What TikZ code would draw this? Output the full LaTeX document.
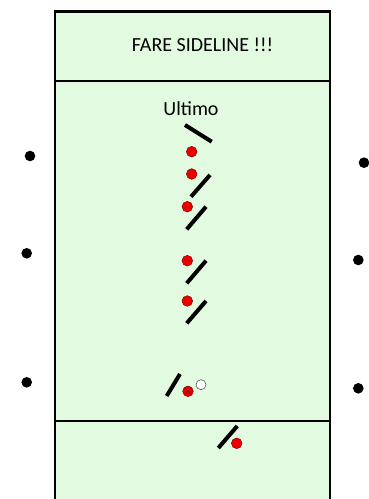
\documentclass[tikz,border=0pt]{standalone}
\usepackage{fontspec}
\setmainfont{Carlito}
\usetikzlibrary{positioning}
\definecolor{fieldgreen}{RGB}{226,250,224}
\definecolor{discred}{RGB}{235,0,0}
\tikzset{
  player/.style={fill=discred, draw=red!55!black, line width=0.4pt},
  stick/.style={line width=3pt},
  sideplayer/.style={fill=black},
  label/.style={font=\fontsize{15}{17}\selectfont, inner sep=0pt}
}

\begin{document}
\begin{tikzpicture}[x=0.75pt, y=-0.75pt]
    \useasboundingbox (0,0) rectangle (368,499);
    % field and end zones
    \fill[fieldgreen] (55,11.5) rectangle (330,510);
    \draw[line width=2.2pt] (55,510) -- (55,11.5) -- (330,11.5) -- (330,510);
    \draw[line width=1.5pt] (55,81) -- (330,81);
    \draw[line width=1.5pt] (55,420.5) -- (330,420.5);

    \node[label] (title) at (202.5,45) {FARE SIDELINE !!!};
    \node[label] (ultimo) at (191,109) {Ultimo};

    % players on the sideline
    \fill[sideplayer] (30,156) circle (5.3);
    \fill[sideplayer] (26.7,253.3) circle (5.3);
    \fill[sideplayer] (26.7,382.3) circle (5.3);
    \fill[sideplayer] (364,162.7) circle (5.3);
    \fill[sideplayer] (358.3,260) circle (5.3);
    \fill[sideplayer] (358.3,388.3) circle (5.3);

    % marks
    \draw[stick] (185,125) -- (211.7,141.7);
    \draw[stick] (210,175) -- (191,196.7);
    \draw[stick] (206,206.7) -- (186.7,229.3);
    \draw[stick] (206,260.7) -- (186.7,283.3);
    \draw[stick] (206,301) -- (186.7,323.3);
    \draw[stick] (180,374) -- (166.7,396);
    \draw[stick] (237.3,426) -- (218.3,448);

    % stack
    \filldraw[player] (191.7,151.7) circle (5.3);
    \filldraw[player] (191.7,174) circle (5.3);
    \filldraw[player] (187.3,206.7) circle (5.3);
    \filldraw[player] (187.3,260.7) circle (5.3);
    \filldraw[player] (187.3,301) circle (5.3);
    \filldraw[player] (236.7,443.3) circle (5.3);

    % thrower with disc
    \filldraw[player] (188,391.3) circle (5.3);
    \draw[red!45!black, line width=0.4pt] (185,388.3) -- (191,394.3) (185,394.3) -- (191,388.3);
    \filldraw[fill=white, draw=black!60, line width=0.5pt] (201,384.7) circle (5);
\end{tikzpicture}
\end{document}
